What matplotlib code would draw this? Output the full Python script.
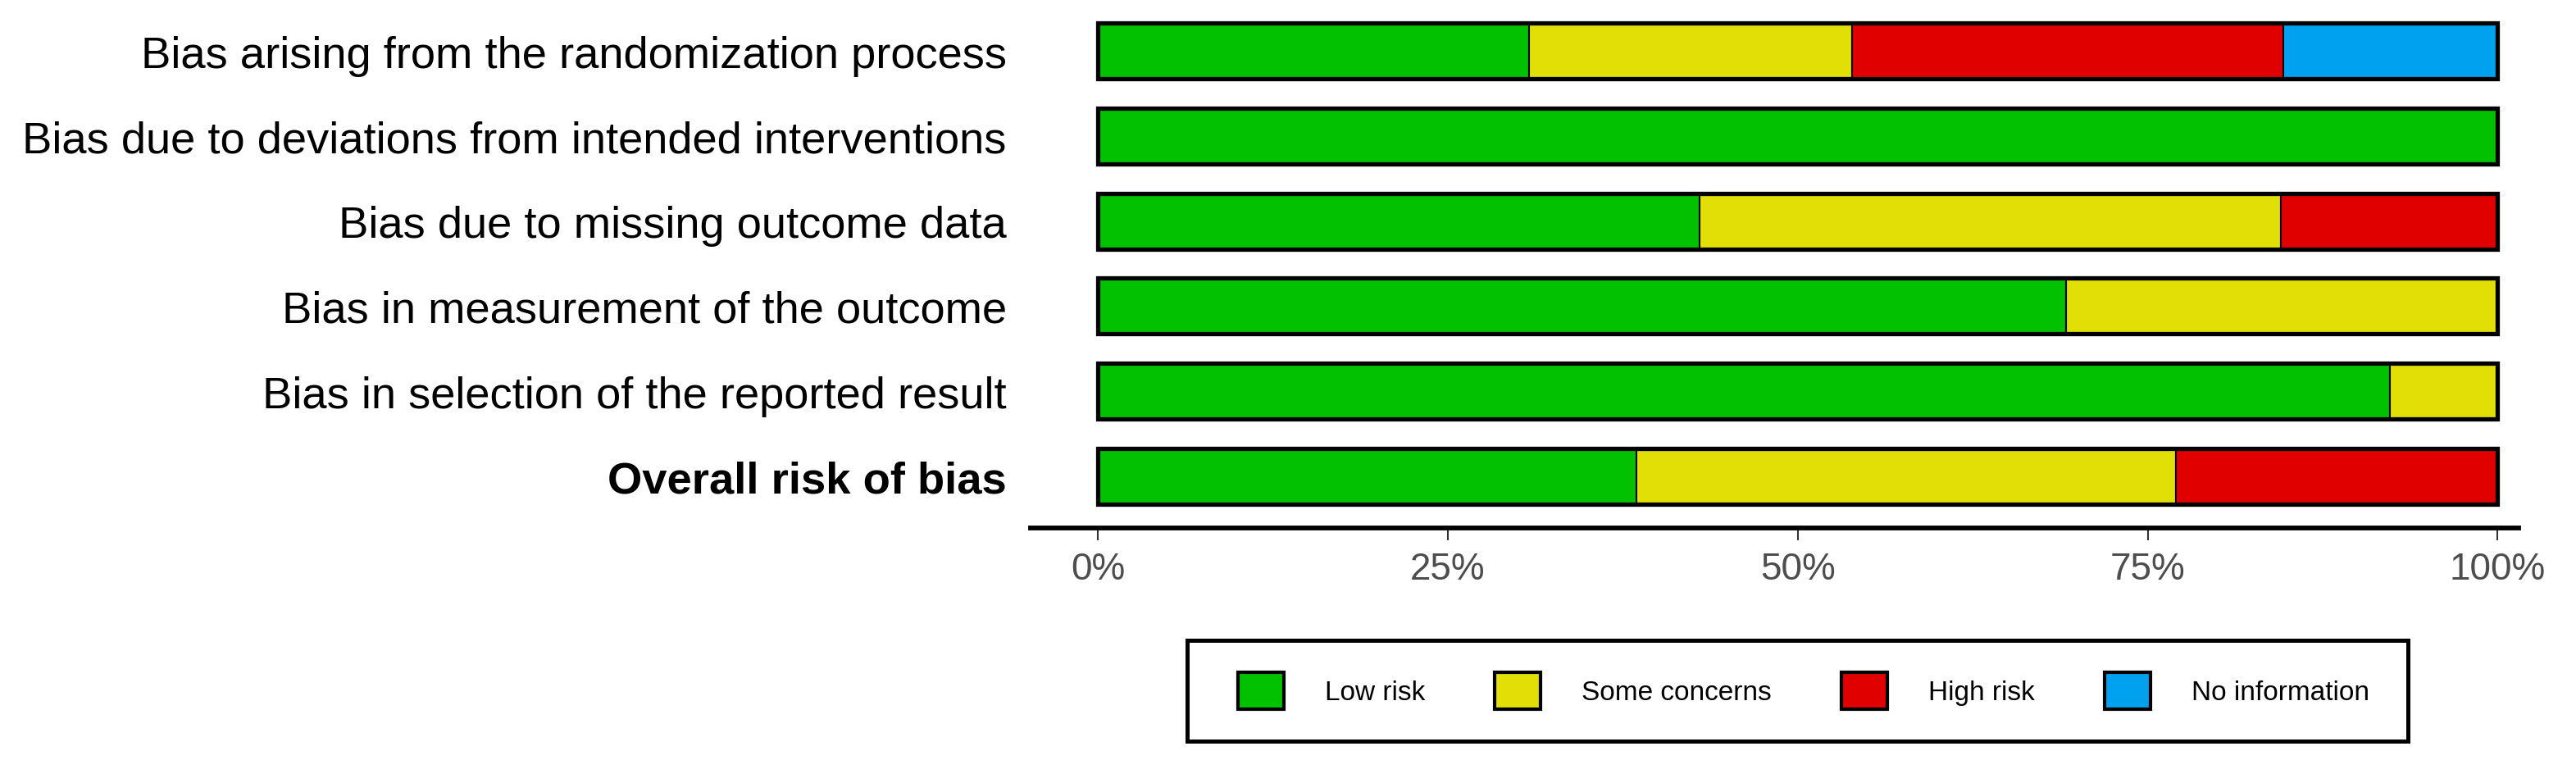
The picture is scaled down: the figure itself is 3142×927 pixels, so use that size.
import matplotlib
matplotlib.use("Agg")
import matplotlib.pyplot as plt
from matplotlib.patches import Patch, Rectangle

plt.rcParams['font.family'] = ['Liberation Sans', 'DejaVu Sans']

# risk of bias summary (percent of studies)
domains = ['Bias arising from the randomization process',
           'Bias due to deviations from intended interventions',
           'Bias due to missing outcome data',
           'Bias in measurement of the outcome',
           'Bias in selection of the reported result',
           'Overall risk of bias']
levels = ['Low risk', 'Some concerns', 'High risk', 'No information']
colours = ['#02C100', '#E2DF07', '#E00000', '#00A2F0']

low    = [30.8, 100.0, 43.0, 69.2, 92.3, 38.5]
some   = [23.1,   0.0, 41.5, 30.8,  7.7, 38.5]
high   = [30.8,   0.0, 15.5,  0.0,  0.0, 23.0]
noinfo = [15.3,   0.0,  0.0,  0.0,  0.0,  0.0]

W, H = 3142, 928
fig = plt.figure(figsize=(W/100, H/100), dpi=100)
ax = fig.add_axes([1257/W, 1-645/H, (3072-1257)/W, 645/H])

ypos = list(range(len(domains)))
bh = 0.655
left = [0.0]*len(domains)
for vals, col in zip([low, some, high, noinfo], colours):
    for i, v in enumerate(vals):
        if v > 0:
            ax.barh(ypos[i], v, left=left[i], height=bh, color=col,
                    edgecolor='black', linewidth=1.5)
        left[i] += v
# thick outline round each bar
ax.barh(ypos, [100]*len(domains), height=bh, fill=False,
        edgecolor='black', linewidth=3.8, zorder=3)

ax.set_xlim(-4.8, 101.5)
ax.set_ylim(5.607, -0.607)
for s in ['top', 'right', 'left']:
    ax.spines[s].set_visible(False)
ax.spines['bottom'].set_linewidth(4.2)
ax.spines['bottom'].set_color('black')

ax.set_xticks([0, 25, 50, 75, 100])
ax.set_xticklabels(['0%', '25%', '50%', '75%', '100%'])
ax.tick_params(axis='x', length=11, width=1.5, color='#333333',
               labelsize=33, labelcolor='#4D4D4D', pad=9)
ax.set_yticks(ypos)
ax.set_yticklabels(domains, fontsize=39.2)
ax.tick_params(axis='y', length=0, pad=21)
ax.get_yticklabels()[-1].set_fontweight('bold')

handles = [Patch(facecolor=c, edgecolor='black', linewidth=3, label=l)
           for c, l in zip(colours, levels)]
leg = fig.legend(handles=handles, loc='center left',
                 bbox_to_anchor=(1510/W, 1-843.5/H), ncol=4, fontsize=24,
                 frameon=False, handlelength=1.68, handleheight=1.71,
                 handletextpad=1.5, columnspacing=2.55, borderpad=0,
                 borderaxespad=0)

# legend box
fig.patches.append(Rectangle((1448/W, 1-905/H), (2937-1448)/W, (905-782)/H,
                             transform=fig.transFigure, fill=False,
                             edgecolor='black', linewidth=3.6))

fig.savefig('out.png', dpi=100)
